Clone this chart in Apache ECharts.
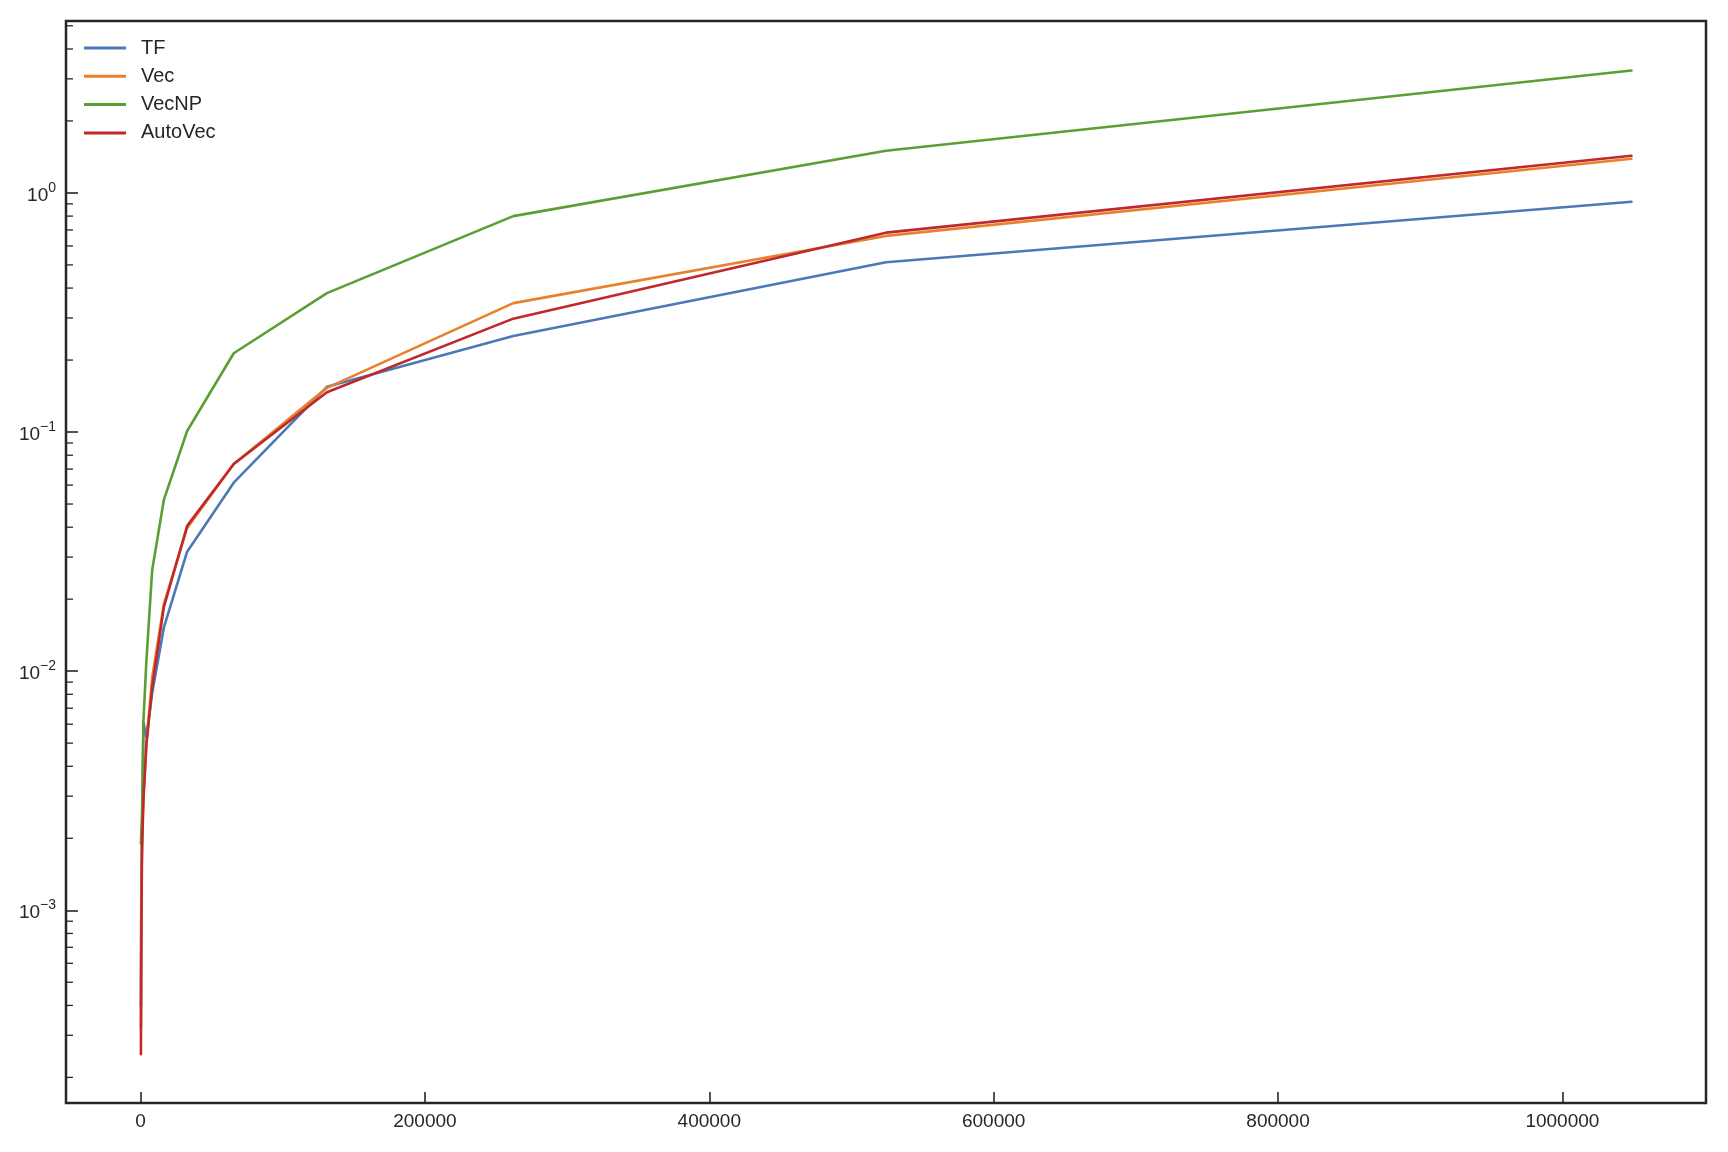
<!DOCTYPE html>
<html>
<head>
<meta charset="utf-8">
<script src="https://cdn.jsdelivr.net/npm/echarts@6/dist/echarts.min.js"></script>
<style>
html,body{margin:0;padding:0;background:#fff;}
#chart{width:1728px;height:1152px;}
</style>
</head>
<body>
<div id="chart"></div>
<script>
const sizes   = [256, 512, 1024, 2048, 4096, 8192, 16384, 32768, 65536, 131072, 262144, 524288, 1048576];
const tfVals  = [0.0004, 0.0011, 0.0019, 0.0061, 0.0053, 0.0081, 0.0152, 0.0316, 0.0614, 0.1545, 0.252, 0.513, 0.919];
const vecVals = [0.00032, 0.0011, 0.0020, 0.0030, 0.0050, 0.0094, 0.0191, 0.0397, 0.0735, 0.153, 0.346, 0.661, 1.39];
const vecNPVals = [0.0019, 0.0021, 0.0025, 0.0062, 0.011, 0.0265, 0.052, 0.101, 0.2135, 0.381, 0.80, 1.50, 3.25];
const autoVecVals = [0.00025, 0.00068, 0.0018, 0.0029, 0.0049, 0.0086, 0.0185, 0.0405, 0.0735, 0.1466, 0.298, 0.682, 1.43];
const seriesNames = ['TF', 'Vec', 'VecNP', 'AutoVec'];
const seriesColors = ['#4a79b7', '#e8812b', '#5a9e34', '#c1282c'];
const xTickLabels = ['0', '200000', '400000', '600000', '800000', '1000000'];

const FONT = "'Liberation Sans', Arial, sans-serif";
const INK = '#262626';
const GRID = {left: 66, right: 22, top: 21, bottom: 49};
const X_MIN = -52429, X_MAX = 1101005;
const Y_MIN = 1.563e-4, Y_MAX = 5.236;

const allVals = [tfVals, vecVals, vecNPVals, autoVecVals];
const series = seriesNames.map((name, k) => ({
  name: name,
  type: 'line',
  data: sizes.map((x, i) => [x, allVals[k][i]]),
  symbol: 'none',
  showSymbol: false,
  lineStyle: {width: 2.6, color: seriesColors[k], join: 'round', cap: 'round'},
  itemStyle: {color: seriesColors[k]},
  emphasis: {disabled: true},
  z: 2 + k,
  animation: false
}));

const chart = echarts.init(document.getElementById('chart'), null, {renderer: 'canvas'});
const sup = {'0': '0', '-1': '\u22121', '-2': '\u22122', '-3': '\u22123', '-4': '\u22124'};
chart.setOption({
  animation: false,
  backgroundColor: '#ffffff',
  grid: Object.assign({show: true, borderColor: INK, borderWidth: 2.5, backgroundColor: 'transparent'}, GRID),
  legend: {
    data: seriesNames,
    orient: 'vertical',
    left: 79,
    top: 33,
    icon: 'rect',
    itemWidth: 42,
    itemHeight: 3,
    itemGap: 8.3,
    textStyle: {fontFamily: FONT, fontSize: 20, color: INK, lineHeight: 20, padding: [0, 0, 0, 10]},
    selectedMode: false
  },
  xAxis: {
    type: 'value',
    min: X_MIN,
    max: X_MAX,
    splitNumber: 5,
    axisLine: {show: false, onZero: false},
    axisTick: {show: true, inside: true, length: 11, lineStyle: {color: INK, width: 1.6}},
    axisLabel: {
      show: true, margin: 9, fontFamily: FONT, fontSize: 19, color: INK,
      showMinLabel: false, showMaxLabel: false,
      formatter: function (v) {
        const idx = Math.round(v / 200000);
        if (Math.abs(v - idx * 200000) > 1 || idx < 0 || idx >= xTickLabels.length) return '';
        return xTickLabels[idx];
      }
    },
    splitLine: {show: false}
  },
  yAxis: {
    type: 'log',
    logBase: 10,
    min: Y_MIN,
    max: Y_MAX,
    axisLine: {show: false, onZero: false},
    axisTick: {show: true, inside: true, length: 12, lineStyle: {color: INK, width: 1.6}},
    axisLabel: {
      show: true, margin: 10, color: INK,
      showMinLabel: false, showMaxLabel: false,
      formatter: function (v) {
        const e = Math.round(Math.log10(v));
        if (Math.abs(Math.log10(v) - e) > 1e-6) return '';
        return '{b|10}{s|' + (sup[String(e)] || String(e)) + '}';
      },
      rich: {
        b: {fontFamily: FONT, fontSize: 19, color: INK, lineHeight: 24, verticalAlign: 'bottom'},
        s: {fontFamily: FONT, fontSize: 14, color: INK, lineHeight: 14, verticalAlign: 'top'}
      }
    },
    splitLine: {show: false},
    minorTick: {show: false}
  },
  series: series
});

// minor log ticks (2..9 x 10^k) placed through the axis scale
const minorEls = [];
for (let k = -5; k <= 1; k++) {
  for (let m = 2; m <= 9; m++) {
    const v = m * Math.pow(10, k);
    if (v <= Y_MIN || v >= Y_MAX) continue;
    const py = chart.convertToPixel({yAxisIndex: 0}, v);
    minorEls.push({
      type: 'line',
      shape: {x1: GRID.left, y1: py, x2: GRID.left + 7, y2: py},
      style: {stroke: INK, lineWidth: 1.3},
      silent: true,
      z: 10
    });
  }
}
chart.setOption({graphic: minorEls});
</script>
</body>
</html>
